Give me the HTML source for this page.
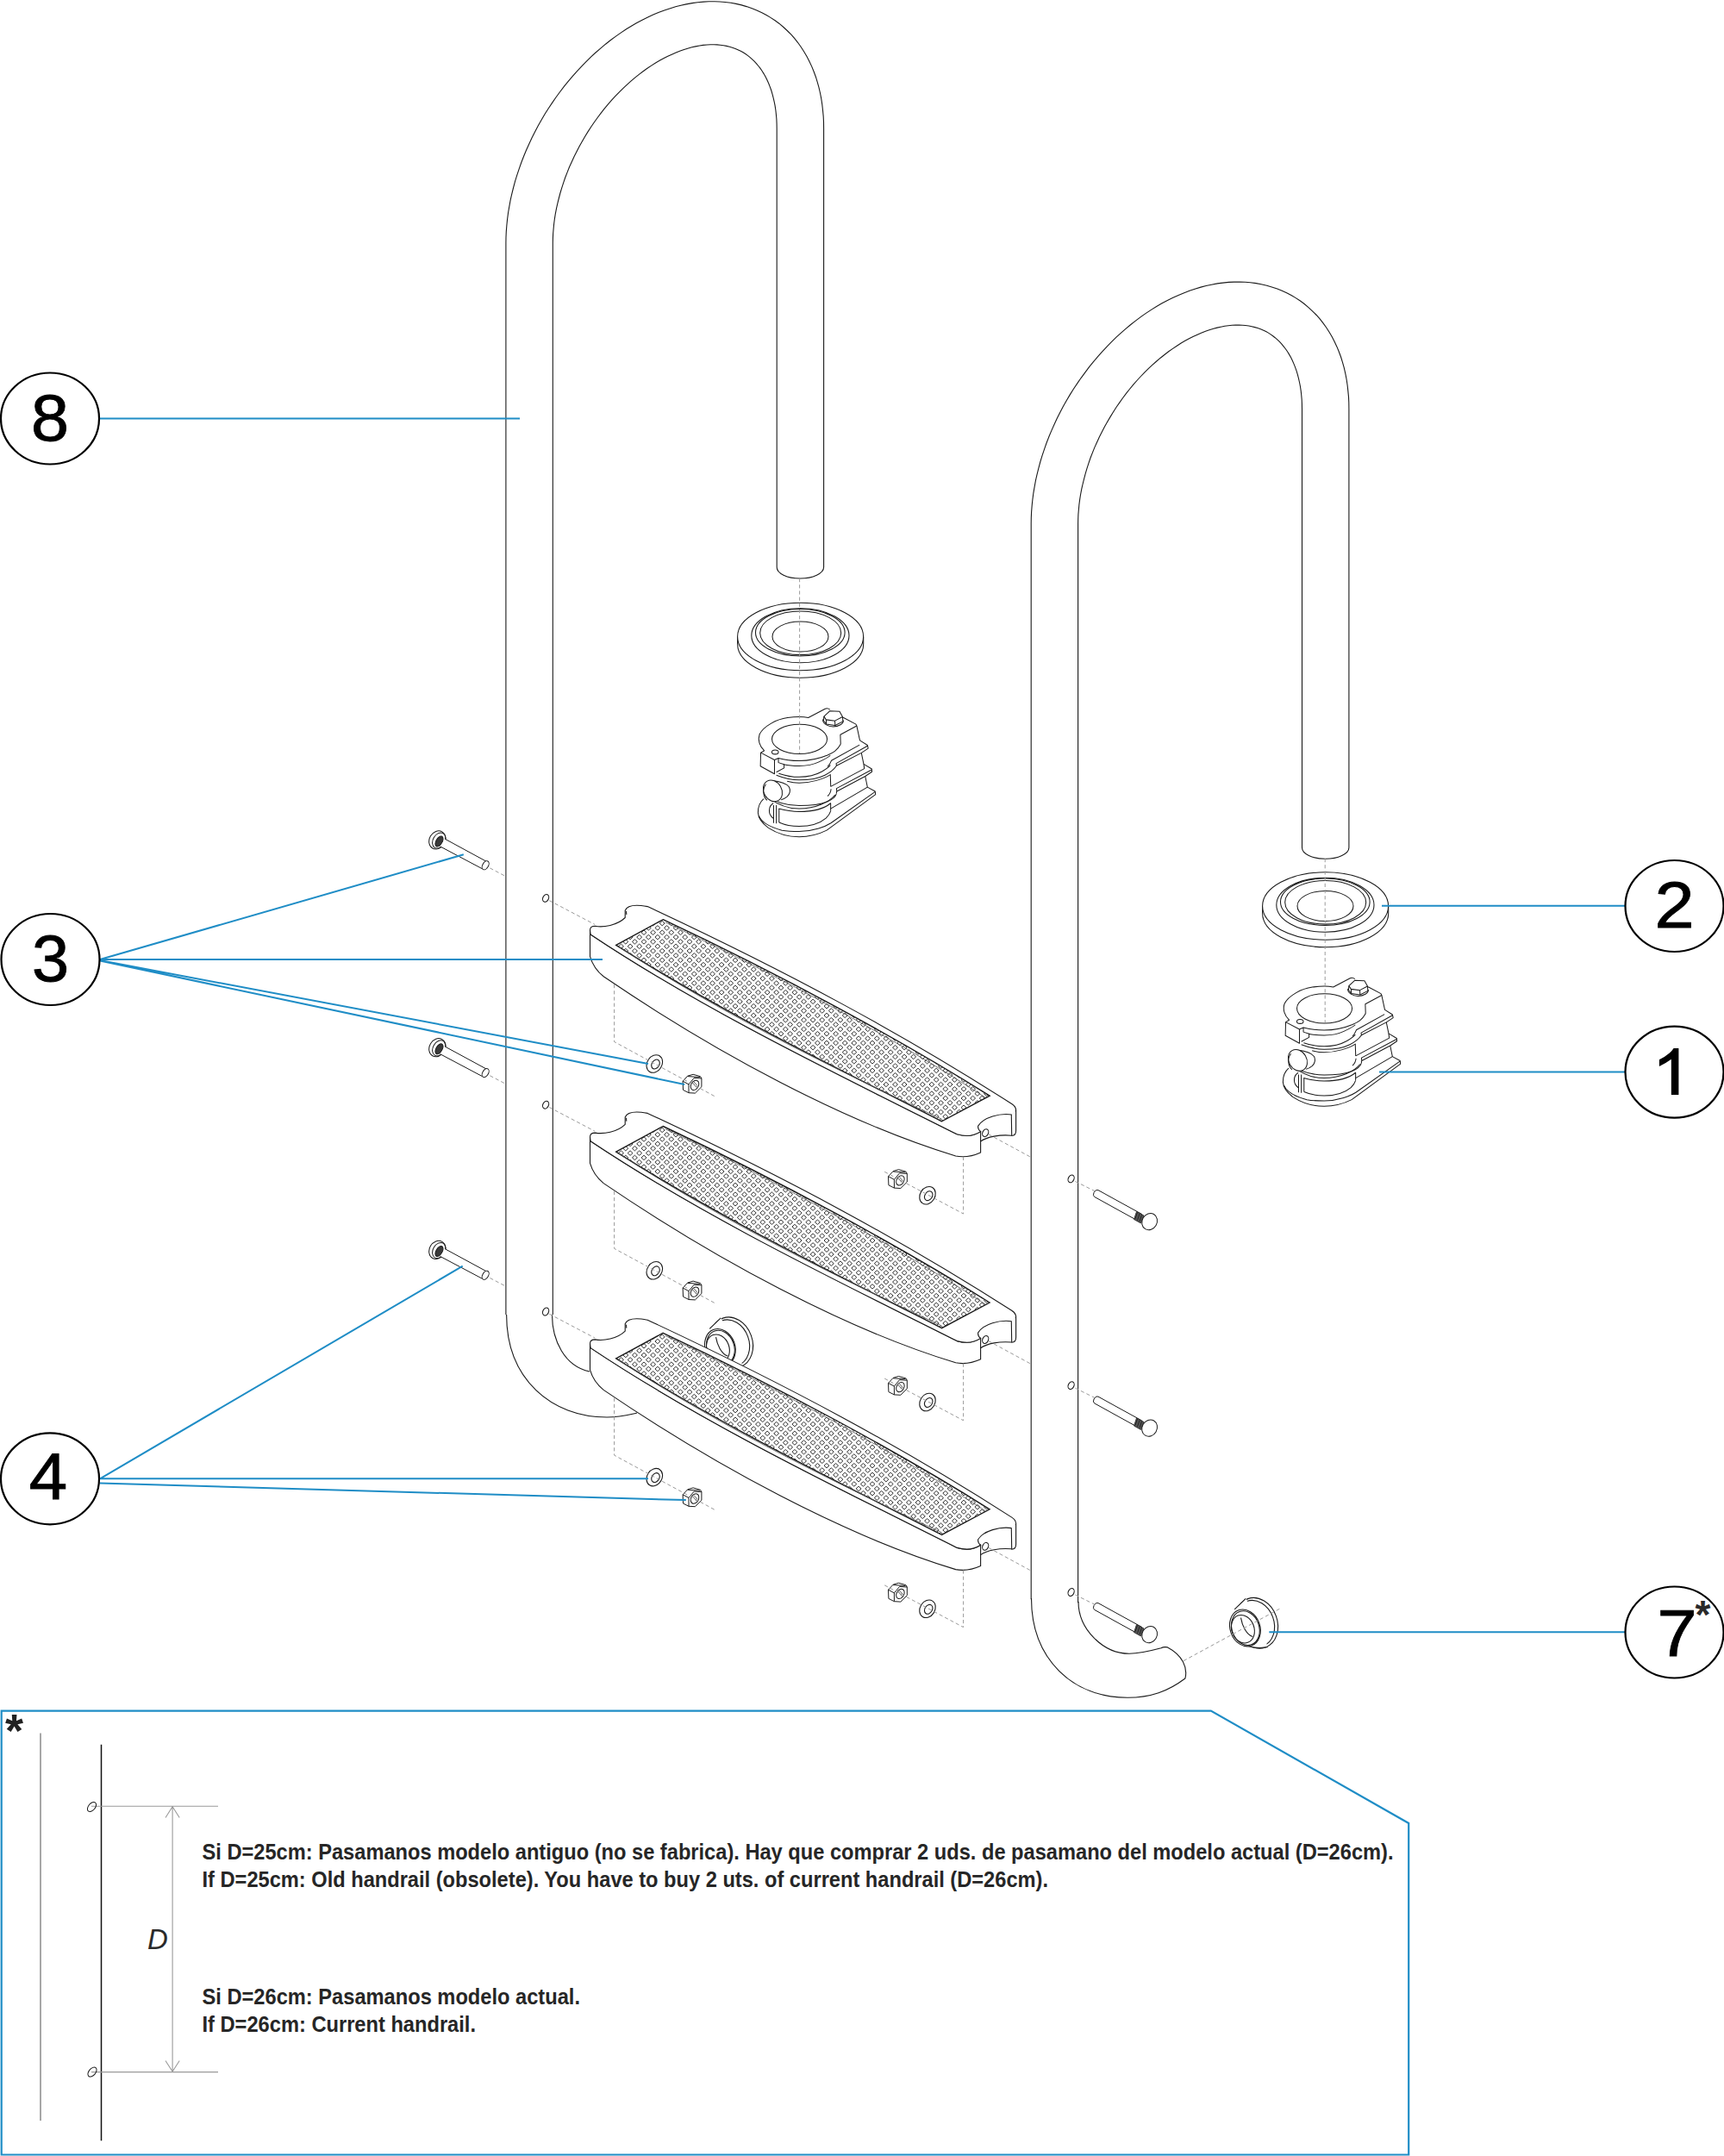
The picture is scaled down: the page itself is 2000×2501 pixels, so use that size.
<!DOCTYPE html>
<html><head><meta charset="utf-8"><style>
html,body{margin:0;padding:0;background:#fff;width:2000px;height:2501px;overflow:hidden}
svg{display:block}
</style></head><body>
<svg width="2000" height="2501" viewBox="0 0 2000 2501"><defs><pattern id="mesh" patternUnits="userSpaceOnUse" width="10.6" height="10.68" x="2.38" y="0.39"><path d="M2.65,-0.18 L5.80,2.67 L2.65,5.52 L-0.50,2.67 Z M7.95,5.16 L11.10,8.01 L7.95,10.86 L4.80,8.01 Z M-2.65,5.16 L0.50,8.01 L-2.65,10.86 L-5.80,8.01 Z M7.95,-5.52 L11.10,-2.67 L7.95,0.18 L4.80,-2.67 Z M-2.65,-5.52 L0.50,-2.67 L-2.65,0.18 L-5.80,-2.67 Z M13.25,5.16 L16.40,8.01 L13.25,10.86 L10.10,8.01 Z M2.65,10.50 L5.80,13.35 L2.65,16.20 L-0.50,13.35 Z" fill="none" stroke="#1a1a1a" stroke-width="0.9"/></pattern>
<g id="tread">
<path d="M685.1,1084 C819.8,1173.9 977.7,1249.1 1110.3,1315.8 Q1116,1317.5 1121.7,1317.5 Q1130,1317.5 1137.6,1312.6 L1137.6,1337 Q1127,1341.8 1116.8,1341.8 Q1112,1341.8 1108.7,1341 C979.9,1301.9 829.6,1220.8 700.2,1132.8 Q688.6,1123.5 684.5,1109.6 L684.5,1079 Z" fill="#fff" stroke="#1a1a1a" stroke-width="1.1"/>
<path d="M684.5,1079 Q684.5,1074.3 690.5,1074.3 C700,1076 716,1073.5 725.2,1064.5 L725.2,1056.2 C727,1051.5 733,1050.2 738.7,1050.2 C743,1050.2 746.5,1050.8 751.2,1051.6 C914.0,1127.5 1046.0,1198.8 1173.7,1280.5 Q1178.6,1283.5 1178.6,1288 Q1177,1292.5 1173.7,1293 C1160,1291 1141,1296 1134.7,1306.1 Q1134,1310 1137.6,1312.6 Q1130,1317.5 1121.7,1317.5 Q1116,1317.5 1110.3,1315.8 C977.7,1249.1 819.8,1173.9 685.1,1084 Z" fill="#fff" stroke="#1a1a1a" stroke-width="1.1"/>
<path d="M1178.6,1288 L1178.6,1311.8 Q1178.6,1317.5 1173.7,1317.5 L1173.3,1293" fill="#fff" stroke="#1a1a1a" stroke-width="1.1"/>
<path d="M1173.3,1317.2 C1160,1316 1145,1318.5 1137.6,1324" fill="none" stroke="#1a1a1a" stroke-width="1.1"/>
<path d="M726.5,1057 L726.8,1061" fill="none" stroke="#1a1a1a" stroke-width="1.05"/>
<ellipse cx="1143.2" cy="1314.2" rx="3.3" ry="4.6" transform="rotate(25 1143.2 1314.2)" fill="none" stroke="#1a1a1a" stroke-width="1.1"/>
<clipPath id="meshclip"><path d="M714.7,1096.3 L769.2,1066.7 C903.2,1129.6 1043.6,1205.5 1148.1,1271.2 L1092.5,1300.8 C982.8,1244.3 847.4,1180.4 714.7,1096.3 Z"/></clipPath><path clip-path="url(#meshclip)" d="M773.5,1063.0l3,2.7l-3,2.7l-3,-2.7zM757.6,1068.4l3,2.7l-3,2.7l-3,-2.7zM768.2,1068.4l3,2.7l-3,2.7l-3,-2.7zM778.8,1068.4l3,2.7l-3,2.7l-3,-2.7zM752.3,1073.7l3,2.7l-3,2.7l-3,-2.7zM762.9,1073.7l3,2.7l-3,2.7l-3,-2.7zM773.5,1073.7l3,2.7l-3,2.7l-3,-2.7zM784.1,1073.7l3,2.7l-3,2.7l-3,-2.7zM794.7,1073.7l3,2.7l-3,2.7l-3,-2.7zM736.4,1079.0l3,2.7l-3,2.7l-3,-2.7zM747.0,1079.0l3,2.7l-3,2.7l-3,-2.7zM757.6,1079.0l3,2.7l-3,2.7l-3,-2.7zM768.2,1079.0l3,2.7l-3,2.7l-3,-2.7zM778.8,1079.0l3,2.7l-3,2.7l-3,-2.7zM789.4,1079.0l3,2.7l-3,2.7l-3,-2.7zM800.0,1079.0l3,2.7l-3,2.7l-3,-2.7zM731.1,1084.4l3,2.7l-3,2.7l-3,-2.7zM741.7,1084.4l3,2.7l-3,2.7l-3,-2.7zM752.3,1084.4l3,2.7l-3,2.7l-3,-2.7zM762.9,1084.4l3,2.7l-3,2.7l-3,-2.7zM773.5,1084.4l3,2.7l-3,2.7l-3,-2.7zM784.1,1084.4l3,2.7l-3,2.7l-3,-2.7zM794.7,1084.4l3,2.7l-3,2.7l-3,-2.7zM805.3,1084.4l3,2.7l-3,2.7l-3,-2.7zM815.9,1084.4l3,2.7l-3,2.7l-3,-2.7zM715.2,1089.7l3,2.7l-3,2.7l-3,-2.7zM725.8,1089.7l3,2.7l-3,2.7l-3,-2.7zM736.4,1089.7l3,2.7l-3,2.7l-3,-2.7zM747.0,1089.7l3,2.7l-3,2.7l-3,-2.7zM757.6,1089.7l3,2.7l-3,2.7l-3,-2.7zM768.2,1089.7l3,2.7l-3,2.7l-3,-2.7zM778.8,1089.7l3,2.7l-3,2.7l-3,-2.7zM789.4,1089.7l3,2.7l-3,2.7l-3,-2.7zM800.0,1089.7l3,2.7l-3,2.7l-3,-2.7zM810.6,1089.7l3,2.7l-3,2.7l-3,-2.7zM821.2,1089.7l3,2.7l-3,2.7l-3,-2.7zM720.5,1095.1l3,2.7l-3,2.7l-3,-2.7zM731.1,1095.1l3,2.7l-3,2.7l-3,-2.7zM741.7,1095.1l3,2.7l-3,2.7l-3,-2.7zM752.3,1095.1l3,2.7l-3,2.7l-3,-2.7zM762.9,1095.1l3,2.7l-3,2.7l-3,-2.7zM773.5,1095.1l3,2.7l-3,2.7l-3,-2.7zM784.1,1095.1l3,2.7l-3,2.7l-3,-2.7zM794.7,1095.1l3,2.7l-3,2.7l-3,-2.7zM805.3,1095.1l3,2.7l-3,2.7l-3,-2.7zM815.9,1095.1l3,2.7l-3,2.7l-3,-2.7zM826.5,1095.1l3,2.7l-3,2.7l-3,-2.7zM837.1,1095.1l3,2.7l-3,2.7l-3,-2.7zM725.8,1100.4l3,2.7l-3,2.7l-3,-2.7zM736.4,1100.4l3,2.7l-3,2.7l-3,-2.7zM747.0,1100.4l3,2.7l-3,2.7l-3,-2.7zM757.6,1100.4l3,2.7l-3,2.7l-3,-2.7zM768.2,1100.4l3,2.7l-3,2.7l-3,-2.7zM778.8,1100.4l3,2.7l-3,2.7l-3,-2.7zM789.4,1100.4l3,2.7l-3,2.7l-3,-2.7zM800.0,1100.4l3,2.7l-3,2.7l-3,-2.7zM810.6,1100.4l3,2.7l-3,2.7l-3,-2.7zM821.2,1100.4l3,2.7l-3,2.7l-3,-2.7zM831.8,1100.4l3,2.7l-3,2.7l-3,-2.7zM842.4,1100.4l3,2.7l-3,2.7l-3,-2.7zM731.1,1105.7l3,2.7l-3,2.7l-3,-2.7zM741.7,1105.7l3,2.7l-3,2.7l-3,-2.7zM752.3,1105.7l3,2.7l-3,2.7l-3,-2.7zM762.9,1105.7l3,2.7l-3,2.7l-3,-2.7zM773.5,1105.7l3,2.7l-3,2.7l-3,-2.7zM784.1,1105.7l3,2.7l-3,2.7l-3,-2.7zM794.7,1105.7l3,2.7l-3,2.7l-3,-2.7zM805.3,1105.7l3,2.7l-3,2.7l-3,-2.7zM815.9,1105.7l3,2.7l-3,2.7l-3,-2.7zM826.5,1105.7l3,2.7l-3,2.7l-3,-2.7zM837.1,1105.7l3,2.7l-3,2.7l-3,-2.7zM847.7,1105.7l3,2.7l-3,2.7l-3,-2.7zM858.3,1105.7l3,2.7l-3,2.7l-3,-2.7zM736.4,1111.1l3,2.7l-3,2.7l-3,-2.7zM747.0,1111.1l3,2.7l-3,2.7l-3,-2.7zM757.6,1111.1l3,2.7l-3,2.7l-3,-2.7zM768.2,1111.1l3,2.7l-3,2.7l-3,-2.7zM778.8,1111.1l3,2.7l-3,2.7l-3,-2.7zM789.4,1111.1l3,2.7l-3,2.7l-3,-2.7zM800.0,1111.1l3,2.7l-3,2.7l-3,-2.7zM810.6,1111.1l3,2.7l-3,2.7l-3,-2.7zM821.2,1111.1l3,2.7l-3,2.7l-3,-2.7zM831.8,1111.1l3,2.7l-3,2.7l-3,-2.7zM842.4,1111.1l3,2.7l-3,2.7l-3,-2.7zM853.0,1111.1l3,2.7l-3,2.7l-3,-2.7zM863.6,1111.1l3,2.7l-3,2.7l-3,-2.7zM752.3,1116.4l3,2.7l-3,2.7l-3,-2.7zM762.9,1116.4l3,2.7l-3,2.7l-3,-2.7zM773.5,1116.4l3,2.7l-3,2.7l-3,-2.7zM784.1,1116.4l3,2.7l-3,2.7l-3,-2.7zM794.7,1116.4l3,2.7l-3,2.7l-3,-2.7zM805.3,1116.4l3,2.7l-3,2.7l-3,-2.7zM815.9,1116.4l3,2.7l-3,2.7l-3,-2.7zM826.5,1116.4l3,2.7l-3,2.7l-3,-2.7zM837.1,1116.4l3,2.7l-3,2.7l-3,-2.7zM847.7,1116.4l3,2.7l-3,2.7l-3,-2.7zM858.3,1116.4l3,2.7l-3,2.7l-3,-2.7zM868.9,1116.4l3,2.7l-3,2.7l-3,-2.7zM879.5,1116.4l3,2.7l-3,2.7l-3,-2.7zM757.6,1121.8l3,2.7l-3,2.7l-3,-2.7zM768.2,1121.8l3,2.7l-3,2.7l-3,-2.7zM778.8,1121.8l3,2.7l-3,2.7l-3,-2.7zM789.4,1121.8l3,2.7l-3,2.7l-3,-2.7zM800.0,1121.8l3,2.7l-3,2.7l-3,-2.7zM810.6,1121.8l3,2.7l-3,2.7l-3,-2.7zM821.2,1121.8l3,2.7l-3,2.7l-3,-2.7zM831.8,1121.8l3,2.7l-3,2.7l-3,-2.7zM842.4,1121.8l3,2.7l-3,2.7l-3,-2.7zM853.0,1121.8l3,2.7l-3,2.7l-3,-2.7zM863.6,1121.8l3,2.7l-3,2.7l-3,-2.7zM874.2,1121.8l3,2.7l-3,2.7l-3,-2.7zM884.8,1121.8l3,2.7l-3,2.7l-3,-2.7zM762.9,1127.1l3,2.7l-3,2.7l-3,-2.7zM773.5,1127.1l3,2.7l-3,2.7l-3,-2.7zM784.1,1127.1l3,2.7l-3,2.7l-3,-2.7zM794.7,1127.1l3,2.7l-3,2.7l-3,-2.7zM805.3,1127.1l3,2.7l-3,2.7l-3,-2.7zM815.9,1127.1l3,2.7l-3,2.7l-3,-2.7zM826.5,1127.1l3,2.7l-3,2.7l-3,-2.7zM837.1,1127.1l3,2.7l-3,2.7l-3,-2.7zM847.7,1127.1l3,2.7l-3,2.7l-3,-2.7zM858.3,1127.1l3,2.7l-3,2.7l-3,-2.7zM868.9,1127.1l3,2.7l-3,2.7l-3,-2.7zM879.5,1127.1l3,2.7l-3,2.7l-3,-2.7zM890.1,1127.1l3,2.7l-3,2.7l-3,-2.7zM900.7,1127.1l3,2.7l-3,2.7l-3,-2.7zM778.8,1132.4l3,2.7l-3,2.7l-3,-2.7zM789.4,1132.4l3,2.7l-3,2.7l-3,-2.7zM800.0,1132.4l3,2.7l-3,2.7l-3,-2.7zM810.6,1132.4l3,2.7l-3,2.7l-3,-2.7zM821.2,1132.4l3,2.7l-3,2.7l-3,-2.7zM831.8,1132.4l3,2.7l-3,2.7l-3,-2.7zM842.4,1132.4l3,2.7l-3,2.7l-3,-2.7zM853.0,1132.4l3,2.7l-3,2.7l-3,-2.7zM863.6,1132.4l3,2.7l-3,2.7l-3,-2.7zM874.2,1132.4l3,2.7l-3,2.7l-3,-2.7zM884.8,1132.4l3,2.7l-3,2.7l-3,-2.7zM895.4,1132.4l3,2.7l-3,2.7l-3,-2.7zM906.0,1132.4l3,2.7l-3,2.7l-3,-2.7zM784.1,1137.8l3,2.7l-3,2.7l-3,-2.7zM794.7,1137.8l3,2.7l-3,2.7l-3,-2.7zM805.3,1137.8l3,2.7l-3,2.7l-3,-2.7zM815.9,1137.8l3,2.7l-3,2.7l-3,-2.7zM826.5,1137.8l3,2.7l-3,2.7l-3,-2.7zM837.1,1137.8l3,2.7l-3,2.7l-3,-2.7zM847.7,1137.8l3,2.7l-3,2.7l-3,-2.7zM858.3,1137.8l3,2.7l-3,2.7l-3,-2.7zM868.9,1137.8l3,2.7l-3,2.7l-3,-2.7zM879.5,1137.8l3,2.7l-3,2.7l-3,-2.7zM890.1,1137.8l3,2.7l-3,2.7l-3,-2.7zM900.7,1137.8l3,2.7l-3,2.7l-3,-2.7zM911.3,1137.8l3,2.7l-3,2.7l-3,-2.7zM921.9,1137.8l3,2.7l-3,2.7l-3,-2.7zM800.0,1143.1l3,2.7l-3,2.7l-3,-2.7zM810.6,1143.1l3,2.7l-3,2.7l-3,-2.7zM821.2,1143.1l3,2.7l-3,2.7l-3,-2.7zM831.8,1143.1l3,2.7l-3,2.7l-3,-2.7zM842.4,1143.1l3,2.7l-3,2.7l-3,-2.7zM853.0,1143.1l3,2.7l-3,2.7l-3,-2.7zM863.6,1143.1l3,2.7l-3,2.7l-3,-2.7zM874.2,1143.1l3,2.7l-3,2.7l-3,-2.7zM884.8,1143.1l3,2.7l-3,2.7l-3,-2.7zM895.4,1143.1l3,2.7l-3,2.7l-3,-2.7zM906.0,1143.1l3,2.7l-3,2.7l-3,-2.7zM916.6,1143.1l3,2.7l-3,2.7l-3,-2.7zM927.2,1143.1l3,2.7l-3,2.7l-3,-2.7zM805.3,1148.5l3,2.7l-3,2.7l-3,-2.7zM815.9,1148.5l3,2.7l-3,2.7l-3,-2.7zM826.5,1148.5l3,2.7l-3,2.7l-3,-2.7zM837.1,1148.5l3,2.7l-3,2.7l-3,-2.7zM847.7,1148.5l3,2.7l-3,2.7l-3,-2.7zM858.3,1148.5l3,2.7l-3,2.7l-3,-2.7zM868.9,1148.5l3,2.7l-3,2.7l-3,-2.7zM879.5,1148.5l3,2.7l-3,2.7l-3,-2.7zM890.1,1148.5l3,2.7l-3,2.7l-3,-2.7zM900.7,1148.5l3,2.7l-3,2.7l-3,-2.7zM911.3,1148.5l3,2.7l-3,2.7l-3,-2.7zM921.9,1148.5l3,2.7l-3,2.7l-3,-2.7zM932.5,1148.5l3,2.7l-3,2.7l-3,-2.7zM943.1,1148.5l3,2.7l-3,2.7l-3,-2.7zM810.6,1153.8l3,2.7l-3,2.7l-3,-2.7zM821.2,1153.8l3,2.7l-3,2.7l-3,-2.7zM831.8,1153.8l3,2.7l-3,2.7l-3,-2.7zM842.4,1153.8l3,2.7l-3,2.7l-3,-2.7zM853.0,1153.8l3,2.7l-3,2.7l-3,-2.7zM863.6,1153.8l3,2.7l-3,2.7l-3,-2.7zM874.2,1153.8l3,2.7l-3,2.7l-3,-2.7zM884.8,1153.8l3,2.7l-3,2.7l-3,-2.7zM895.4,1153.8l3,2.7l-3,2.7l-3,-2.7zM906.0,1153.8l3,2.7l-3,2.7l-3,-2.7zM916.6,1153.8l3,2.7l-3,2.7l-3,-2.7zM927.2,1153.8l3,2.7l-3,2.7l-3,-2.7zM937.8,1153.8l3,2.7l-3,2.7l-3,-2.7zM948.4,1153.8l3,2.7l-3,2.7l-3,-2.7zM826.5,1159.1l3,2.7l-3,2.7l-3,-2.7zM837.1,1159.1l3,2.7l-3,2.7l-3,-2.7zM847.7,1159.1l3,2.7l-3,2.7l-3,-2.7zM858.3,1159.1l3,2.7l-3,2.7l-3,-2.7zM868.9,1159.1l3,2.7l-3,2.7l-3,-2.7zM879.5,1159.1l3,2.7l-3,2.7l-3,-2.7zM890.1,1159.1l3,2.7l-3,2.7l-3,-2.7zM900.7,1159.1l3,2.7l-3,2.7l-3,-2.7zM911.3,1159.1l3,2.7l-3,2.7l-3,-2.7zM921.9,1159.1l3,2.7l-3,2.7l-3,-2.7zM932.5,1159.1l3,2.7l-3,2.7l-3,-2.7zM943.1,1159.1l3,2.7l-3,2.7l-3,-2.7zM953.7,1159.1l3,2.7l-3,2.7l-3,-2.7zM964.3,1159.1l3,2.7l-3,2.7l-3,-2.7zM831.8,1164.5l3,2.7l-3,2.7l-3,-2.7zM842.4,1164.5l3,2.7l-3,2.7l-3,-2.7zM853.0,1164.5l3,2.7l-3,2.7l-3,-2.7zM863.6,1164.5l3,2.7l-3,2.7l-3,-2.7zM874.2,1164.5l3,2.7l-3,2.7l-3,-2.7zM884.8,1164.5l3,2.7l-3,2.7l-3,-2.7zM895.4,1164.5l3,2.7l-3,2.7l-3,-2.7zM906.0,1164.5l3,2.7l-3,2.7l-3,-2.7zM916.6,1164.5l3,2.7l-3,2.7l-3,-2.7zM927.2,1164.5l3,2.7l-3,2.7l-3,-2.7zM937.8,1164.5l3,2.7l-3,2.7l-3,-2.7zM948.4,1164.5l3,2.7l-3,2.7l-3,-2.7zM959.0,1164.5l3,2.7l-3,2.7l-3,-2.7zM969.6,1164.5l3,2.7l-3,2.7l-3,-2.7zM837.1,1169.8l3,2.7l-3,2.7l-3,-2.7zM847.7,1169.8l3,2.7l-3,2.7l-3,-2.7zM858.3,1169.8l3,2.7l-3,2.7l-3,-2.7zM868.9,1169.8l3,2.7l-3,2.7l-3,-2.7zM879.5,1169.8l3,2.7l-3,2.7l-3,-2.7zM890.1,1169.8l3,2.7l-3,2.7l-3,-2.7zM900.7,1169.8l3,2.7l-3,2.7l-3,-2.7zM911.3,1169.8l3,2.7l-3,2.7l-3,-2.7zM921.9,1169.8l3,2.7l-3,2.7l-3,-2.7zM932.5,1169.8l3,2.7l-3,2.7l-3,-2.7zM943.1,1169.8l3,2.7l-3,2.7l-3,-2.7zM953.7,1169.8l3,2.7l-3,2.7l-3,-2.7zM964.3,1169.8l3,2.7l-3,2.7l-3,-2.7zM974.9,1169.8l3,2.7l-3,2.7l-3,-2.7zM985.5,1169.8l3,2.7l-3,2.7l-3,-2.7zM853.0,1175.2l3,2.7l-3,2.7l-3,-2.7zM863.6,1175.2l3,2.7l-3,2.7l-3,-2.7zM874.2,1175.2l3,2.7l-3,2.7l-3,-2.7zM884.8,1175.2l3,2.7l-3,2.7l-3,-2.7zM895.4,1175.2l3,2.7l-3,2.7l-3,-2.7zM906.0,1175.2l3,2.7l-3,2.7l-3,-2.7zM916.6,1175.2l3,2.7l-3,2.7l-3,-2.7zM927.2,1175.2l3,2.7l-3,2.7l-3,-2.7zM937.8,1175.2l3,2.7l-3,2.7l-3,-2.7zM948.4,1175.2l3,2.7l-3,2.7l-3,-2.7zM959.0,1175.2l3,2.7l-3,2.7l-3,-2.7zM969.6,1175.2l3,2.7l-3,2.7l-3,-2.7zM980.2,1175.2l3,2.7l-3,2.7l-3,-2.7zM990.8,1175.2l3,2.7l-3,2.7l-3,-2.7zM858.3,1180.5l3,2.7l-3,2.7l-3,-2.7zM868.9,1180.5l3,2.7l-3,2.7l-3,-2.7zM879.5,1180.5l3,2.7l-3,2.7l-3,-2.7zM890.1,1180.5l3,2.7l-3,2.7l-3,-2.7zM900.7,1180.5l3,2.7l-3,2.7l-3,-2.7zM911.3,1180.5l3,2.7l-3,2.7l-3,-2.7zM921.9,1180.5l3,2.7l-3,2.7l-3,-2.7zM932.5,1180.5l3,2.7l-3,2.7l-3,-2.7zM943.1,1180.5l3,2.7l-3,2.7l-3,-2.7zM953.7,1180.5l3,2.7l-3,2.7l-3,-2.7zM964.3,1180.5l3,2.7l-3,2.7l-3,-2.7zM974.9,1180.5l3,2.7l-3,2.7l-3,-2.7zM985.5,1180.5l3,2.7l-3,2.7l-3,-2.7zM996.1,1180.5l3,2.7l-3,2.7l-3,-2.7zM874.2,1185.8l3,2.7l-3,2.7l-3,-2.7zM884.8,1185.8l3,2.7l-3,2.7l-3,-2.7zM895.4,1185.8l3,2.7l-3,2.7l-3,-2.7zM906.0,1185.8l3,2.7l-3,2.7l-3,-2.7zM916.6,1185.8l3,2.7l-3,2.7l-3,-2.7zM927.2,1185.8l3,2.7l-3,2.7l-3,-2.7zM937.8,1185.8l3,2.7l-3,2.7l-3,-2.7zM948.4,1185.8l3,2.7l-3,2.7l-3,-2.7zM959.0,1185.8l3,2.7l-3,2.7l-3,-2.7zM969.6,1185.8l3,2.7l-3,2.7l-3,-2.7zM980.2,1185.8l3,2.7l-3,2.7l-3,-2.7zM990.8,1185.8l3,2.7l-3,2.7l-3,-2.7zM1001.4,1185.8l3,2.7l-3,2.7l-3,-2.7zM1012.0,1185.8l3,2.7l-3,2.7l-3,-2.7zM879.5,1191.2l3,2.7l-3,2.7l-3,-2.7zM890.1,1191.2l3,2.7l-3,2.7l-3,-2.7zM900.7,1191.2l3,2.7l-3,2.7l-3,-2.7zM911.3,1191.2l3,2.7l-3,2.7l-3,-2.7zM921.9,1191.2l3,2.7l-3,2.7l-3,-2.7zM932.5,1191.2l3,2.7l-3,2.7l-3,-2.7zM943.1,1191.2l3,2.7l-3,2.7l-3,-2.7zM953.7,1191.2l3,2.7l-3,2.7l-3,-2.7zM964.3,1191.2l3,2.7l-3,2.7l-3,-2.7zM974.9,1191.2l3,2.7l-3,2.7l-3,-2.7zM985.5,1191.2l3,2.7l-3,2.7l-3,-2.7zM996.1,1191.2l3,2.7l-3,2.7l-3,-2.7zM1006.7,1191.2l3,2.7l-3,2.7l-3,-2.7zM1017.3,1191.2l3,2.7l-3,2.7l-3,-2.7zM895.4,1196.5l3,2.7l-3,2.7l-3,-2.7zM906.0,1196.5l3,2.7l-3,2.7l-3,-2.7zM916.6,1196.5l3,2.7l-3,2.7l-3,-2.7zM927.2,1196.5l3,2.7l-3,2.7l-3,-2.7zM937.8,1196.5l3,2.7l-3,2.7l-3,-2.7zM948.4,1196.5l3,2.7l-3,2.7l-3,-2.7zM959.0,1196.5l3,2.7l-3,2.7l-3,-2.7zM969.6,1196.5l3,2.7l-3,2.7l-3,-2.7zM980.2,1196.5l3,2.7l-3,2.7l-3,-2.7zM990.8,1196.5l3,2.7l-3,2.7l-3,-2.7zM1001.4,1196.5l3,2.7l-3,2.7l-3,-2.7zM1012.0,1196.5l3,2.7l-3,2.7l-3,-2.7zM1022.6,1196.5l3,2.7l-3,2.7l-3,-2.7zM1033.2,1196.5l3,2.7l-3,2.7l-3,-2.7zM900.7,1201.9l3,2.7l-3,2.7l-3,-2.7zM911.3,1201.9l3,2.7l-3,2.7l-3,-2.7zM921.9,1201.9l3,2.7l-3,2.7l-3,-2.7zM932.5,1201.9l3,2.7l-3,2.7l-3,-2.7zM943.1,1201.9l3,2.7l-3,2.7l-3,-2.7zM953.7,1201.9l3,2.7l-3,2.7l-3,-2.7zM964.3,1201.9l3,2.7l-3,2.7l-3,-2.7zM974.9,1201.9l3,2.7l-3,2.7l-3,-2.7zM985.5,1201.9l3,2.7l-3,2.7l-3,-2.7zM996.1,1201.9l3,2.7l-3,2.7l-3,-2.7zM1006.7,1201.9l3,2.7l-3,2.7l-3,-2.7zM1017.3,1201.9l3,2.7l-3,2.7l-3,-2.7zM1027.9,1201.9l3,2.7l-3,2.7l-3,-2.7zM1038.5,1201.9l3,2.7l-3,2.7l-3,-2.7zM916.6,1207.2l3,2.7l-3,2.7l-3,-2.7zM927.2,1207.2l3,2.7l-3,2.7l-3,-2.7zM937.8,1207.2l3,2.7l-3,2.7l-3,-2.7zM948.4,1207.2l3,2.7l-3,2.7l-3,-2.7zM959.0,1207.2l3,2.7l-3,2.7l-3,-2.7zM969.6,1207.2l3,2.7l-3,2.7l-3,-2.7zM980.2,1207.2l3,2.7l-3,2.7l-3,-2.7zM990.8,1207.2l3,2.7l-3,2.7l-3,-2.7zM1001.4,1207.2l3,2.7l-3,2.7l-3,-2.7zM1012.0,1207.2l3,2.7l-3,2.7l-3,-2.7zM1022.6,1207.2l3,2.7l-3,2.7l-3,-2.7zM1033.2,1207.2l3,2.7l-3,2.7l-3,-2.7zM1043.8,1207.2l3,2.7l-3,2.7l-3,-2.7zM921.9,1212.5l3,2.7l-3,2.7l-3,-2.7zM932.5,1212.5l3,2.7l-3,2.7l-3,-2.7zM943.1,1212.5l3,2.7l-3,2.7l-3,-2.7zM953.7,1212.5l3,2.7l-3,2.7l-3,-2.7zM964.3,1212.5l3,2.7l-3,2.7l-3,-2.7zM974.9,1212.5l3,2.7l-3,2.7l-3,-2.7zM985.5,1212.5l3,2.7l-3,2.7l-3,-2.7zM996.1,1212.5l3,2.7l-3,2.7l-3,-2.7zM1006.7,1212.5l3,2.7l-3,2.7l-3,-2.7zM1017.3,1212.5l3,2.7l-3,2.7l-3,-2.7zM1027.9,1212.5l3,2.7l-3,2.7l-3,-2.7zM1038.5,1212.5l3,2.7l-3,2.7l-3,-2.7zM1049.1,1212.5l3,2.7l-3,2.7l-3,-2.7zM1059.7,1212.5l3,2.7l-3,2.7l-3,-2.7zM927.2,1217.9l3,2.7l-3,2.7l-3,-2.7zM937.8,1217.9l3,2.7l-3,2.7l-3,-2.7zM948.4,1217.9l3,2.7l-3,2.7l-3,-2.7zM959.0,1217.9l3,2.7l-3,2.7l-3,-2.7zM969.6,1217.9l3,2.7l-3,2.7l-3,-2.7zM980.2,1217.9l3,2.7l-3,2.7l-3,-2.7zM990.8,1217.9l3,2.7l-3,2.7l-3,-2.7zM1001.4,1217.9l3,2.7l-3,2.7l-3,-2.7zM1012.0,1217.9l3,2.7l-3,2.7l-3,-2.7zM1022.6,1217.9l3,2.7l-3,2.7l-3,-2.7zM1033.2,1217.9l3,2.7l-3,2.7l-3,-2.7zM1043.8,1217.9l3,2.7l-3,2.7l-3,-2.7zM1054.4,1217.9l3,2.7l-3,2.7l-3,-2.7zM1065.0,1217.9l3,2.7l-3,2.7l-3,-2.7zM943.1,1223.2l3,2.7l-3,2.7l-3,-2.7zM953.7,1223.2l3,2.7l-3,2.7l-3,-2.7zM964.3,1223.2l3,2.7l-3,2.7l-3,-2.7zM974.9,1223.2l3,2.7l-3,2.7l-3,-2.7zM985.5,1223.2l3,2.7l-3,2.7l-3,-2.7zM996.1,1223.2l3,2.7l-3,2.7l-3,-2.7zM1006.7,1223.2l3,2.7l-3,2.7l-3,-2.7zM1017.3,1223.2l3,2.7l-3,2.7l-3,-2.7zM1027.9,1223.2l3,2.7l-3,2.7l-3,-2.7zM1038.5,1223.2l3,2.7l-3,2.7l-3,-2.7zM1049.1,1223.2l3,2.7l-3,2.7l-3,-2.7zM1059.7,1223.2l3,2.7l-3,2.7l-3,-2.7zM1070.3,1223.2l3,2.7l-3,2.7l-3,-2.7zM948.4,1228.6l3,2.7l-3,2.7l-3,-2.7zM959.0,1228.6l3,2.7l-3,2.7l-3,-2.7zM969.6,1228.6l3,2.7l-3,2.7l-3,-2.7zM980.2,1228.6l3,2.7l-3,2.7l-3,-2.7zM990.8,1228.6l3,2.7l-3,2.7l-3,-2.7zM1001.4,1228.6l3,2.7l-3,2.7l-3,-2.7zM1012.0,1228.6l3,2.7l-3,2.7l-3,-2.7zM1022.6,1228.6l3,2.7l-3,2.7l-3,-2.7zM1033.2,1228.6l3,2.7l-3,2.7l-3,-2.7zM1043.8,1228.6l3,2.7l-3,2.7l-3,-2.7zM1054.4,1228.6l3,2.7l-3,2.7l-3,-2.7zM1065.0,1228.6l3,2.7l-3,2.7l-3,-2.7zM1075.6,1228.6l3,2.7l-3,2.7l-3,-2.7zM1086.2,1228.6l3,2.7l-3,2.7l-3,-2.7zM964.3,1233.9l3,2.7l-3,2.7l-3,-2.7zM974.9,1233.9l3,2.7l-3,2.7l-3,-2.7zM985.5,1233.9l3,2.7l-3,2.7l-3,-2.7zM996.1,1233.9l3,2.7l-3,2.7l-3,-2.7zM1006.7,1233.9l3,2.7l-3,2.7l-3,-2.7zM1017.3,1233.9l3,2.7l-3,2.7l-3,-2.7zM1027.9,1233.9l3,2.7l-3,2.7l-3,-2.7zM1038.5,1233.9l3,2.7l-3,2.7l-3,-2.7zM1049.1,1233.9l3,2.7l-3,2.7l-3,-2.7zM1059.7,1233.9l3,2.7l-3,2.7l-3,-2.7zM1070.3,1233.9l3,2.7l-3,2.7l-3,-2.7zM1080.9,1233.9l3,2.7l-3,2.7l-3,-2.7zM1091.5,1233.9l3,2.7l-3,2.7l-3,-2.7zM969.6,1239.2l3,2.7l-3,2.7l-3,-2.7zM980.2,1239.2l3,2.7l-3,2.7l-3,-2.7zM990.8,1239.2l3,2.7l-3,2.7l-3,-2.7zM1001.4,1239.2l3,2.7l-3,2.7l-3,-2.7zM1012.0,1239.2l3,2.7l-3,2.7l-3,-2.7zM1022.6,1239.2l3,2.7l-3,2.7l-3,-2.7zM1033.2,1239.2l3,2.7l-3,2.7l-3,-2.7zM1043.8,1239.2l3,2.7l-3,2.7l-3,-2.7zM1054.4,1239.2l3,2.7l-3,2.7l-3,-2.7zM1065.0,1239.2l3,2.7l-3,2.7l-3,-2.7zM1075.6,1239.2l3,2.7l-3,2.7l-3,-2.7zM1086.2,1239.2l3,2.7l-3,2.7l-3,-2.7zM1096.8,1239.2l3,2.7l-3,2.7l-3,-2.7zM985.5,1244.6l3,2.7l-3,2.7l-3,-2.7zM996.1,1244.6l3,2.7l-3,2.7l-3,-2.7zM1006.7,1244.6l3,2.7l-3,2.7l-3,-2.7zM1017.3,1244.6l3,2.7l-3,2.7l-3,-2.7zM1027.9,1244.6l3,2.7l-3,2.7l-3,-2.7zM1038.5,1244.6l3,2.7l-3,2.7l-3,-2.7zM1049.1,1244.6l3,2.7l-3,2.7l-3,-2.7zM1059.7,1244.6l3,2.7l-3,2.7l-3,-2.7zM1070.3,1244.6l3,2.7l-3,2.7l-3,-2.7zM1080.9,1244.6l3,2.7l-3,2.7l-3,-2.7zM1091.5,1244.6l3,2.7l-3,2.7l-3,-2.7zM1102.1,1244.6l3,2.7l-3,2.7l-3,-2.7zM1112.7,1244.6l3,2.7l-3,2.7l-3,-2.7zM990.8,1249.9l3,2.7l-3,2.7l-3,-2.7zM1001.4,1249.9l3,2.7l-3,2.7l-3,-2.7zM1012.0,1249.9l3,2.7l-3,2.7l-3,-2.7zM1022.6,1249.9l3,2.7l-3,2.7l-3,-2.7zM1033.2,1249.9l3,2.7l-3,2.7l-3,-2.7zM1043.8,1249.9l3,2.7l-3,2.7l-3,-2.7zM1054.4,1249.9l3,2.7l-3,2.7l-3,-2.7zM1065.0,1249.9l3,2.7l-3,2.7l-3,-2.7zM1075.6,1249.9l3,2.7l-3,2.7l-3,-2.7zM1086.2,1249.9l3,2.7l-3,2.7l-3,-2.7zM1096.8,1249.9l3,2.7l-3,2.7l-3,-2.7zM1107.4,1249.9l3,2.7l-3,2.7l-3,-2.7zM1118.0,1249.9l3,2.7l-3,2.7l-3,-2.7zM1006.7,1255.3l3,2.7l-3,2.7l-3,-2.7zM1017.3,1255.3l3,2.7l-3,2.7l-3,-2.7zM1027.9,1255.3l3,2.7l-3,2.7l-3,-2.7zM1038.5,1255.3l3,2.7l-3,2.7l-3,-2.7zM1049.1,1255.3l3,2.7l-3,2.7l-3,-2.7zM1059.7,1255.3l3,2.7l-3,2.7l-3,-2.7zM1070.3,1255.3l3,2.7l-3,2.7l-3,-2.7zM1080.9,1255.3l3,2.7l-3,2.7l-3,-2.7zM1091.5,1255.3l3,2.7l-3,2.7l-3,-2.7zM1102.1,1255.3l3,2.7l-3,2.7l-3,-2.7zM1112.7,1255.3l3,2.7l-3,2.7l-3,-2.7zM1123.3,1255.3l3,2.7l-3,2.7l-3,-2.7zM1012.0,1260.6l3,2.7l-3,2.7l-3,-2.7zM1022.6,1260.6l3,2.7l-3,2.7l-3,-2.7zM1033.2,1260.6l3,2.7l-3,2.7l-3,-2.7zM1043.8,1260.6l3,2.7l-3,2.7l-3,-2.7zM1054.4,1260.6l3,2.7l-3,2.7l-3,-2.7zM1065.0,1260.6l3,2.7l-3,2.7l-3,-2.7zM1075.6,1260.6l3,2.7l-3,2.7l-3,-2.7zM1086.2,1260.6l3,2.7l-3,2.7l-3,-2.7zM1096.8,1260.6l3,2.7l-3,2.7l-3,-2.7zM1107.4,1260.6l3,2.7l-3,2.7l-3,-2.7zM1118.0,1260.6l3,2.7l-3,2.7l-3,-2.7zM1128.6,1260.6l3,2.7l-3,2.7l-3,-2.7zM1139.2,1260.6l3,2.7l-3,2.7l-3,-2.7zM1027.9,1265.9l3,2.7l-3,2.7l-3,-2.7zM1038.5,1265.9l3,2.7l-3,2.7l-3,-2.7zM1049.1,1265.9l3,2.7l-3,2.7l-3,-2.7zM1059.7,1265.9l3,2.7l-3,2.7l-3,-2.7zM1070.3,1265.9l3,2.7l-3,2.7l-3,-2.7zM1080.9,1265.9l3,2.7l-3,2.7l-3,-2.7zM1091.5,1265.9l3,2.7l-3,2.7l-3,-2.7zM1102.1,1265.9l3,2.7l-3,2.7l-3,-2.7zM1112.7,1265.9l3,2.7l-3,2.7l-3,-2.7zM1123.3,1265.9l3,2.7l-3,2.7l-3,-2.7zM1133.9,1265.9l3,2.7l-3,2.7l-3,-2.7zM1144.5,1265.9l3,2.7l-3,2.7l-3,-2.7zM1033.2,1271.3l3,2.7l-3,2.7l-3,-2.7zM1043.8,1271.3l3,2.7l-3,2.7l-3,-2.7zM1054.4,1271.3l3,2.7l-3,2.7l-3,-2.7zM1065.0,1271.3l3,2.7l-3,2.7l-3,-2.7zM1075.6,1271.3l3,2.7l-3,2.7l-3,-2.7zM1086.2,1271.3l3,2.7l-3,2.7l-3,-2.7zM1096.8,1271.3l3,2.7l-3,2.7l-3,-2.7zM1107.4,1271.3l3,2.7l-3,2.7l-3,-2.7zM1118.0,1271.3l3,2.7l-3,2.7l-3,-2.7zM1128.6,1271.3l3,2.7l-3,2.7l-3,-2.7zM1139.2,1271.3l3,2.7l-3,2.7l-3,-2.7zM1049.1,1276.6l3,2.7l-3,2.7l-3,-2.7zM1059.7,1276.6l3,2.7l-3,2.7l-3,-2.7zM1070.3,1276.6l3,2.7l-3,2.7l-3,-2.7zM1080.9,1276.6l3,2.7l-3,2.7l-3,-2.7zM1091.5,1276.6l3,2.7l-3,2.7l-3,-2.7zM1102.1,1276.6l3,2.7l-3,2.7l-3,-2.7zM1112.7,1276.6l3,2.7l-3,2.7l-3,-2.7zM1123.3,1276.6l3,2.7l-3,2.7l-3,-2.7zM1133.9,1276.6l3,2.7l-3,2.7l-3,-2.7zM1054.4,1282.0l3,2.7l-3,2.7l-3,-2.7zM1065.0,1282.0l3,2.7l-3,2.7l-3,-2.7zM1075.6,1282.0l3,2.7l-3,2.7l-3,-2.7zM1086.2,1282.0l3,2.7l-3,2.7l-3,-2.7zM1096.8,1282.0l3,2.7l-3,2.7l-3,-2.7zM1107.4,1282.0l3,2.7l-3,2.7l-3,-2.7zM1118.0,1282.0l3,2.7l-3,2.7l-3,-2.7zM1128.6,1282.0l3,2.7l-3,2.7l-3,-2.7zM1070.3,1287.3l3,2.7l-3,2.7l-3,-2.7zM1080.9,1287.3l3,2.7l-3,2.7l-3,-2.7zM1091.5,1287.3l3,2.7l-3,2.7l-3,-2.7zM1102.1,1287.3l3,2.7l-3,2.7l-3,-2.7zM1112.7,1287.3l3,2.7l-3,2.7l-3,-2.7zM1075.6,1292.6l3,2.7l-3,2.7l-3,-2.7zM1086.2,1292.6l3,2.7l-3,2.7l-3,-2.7zM1096.8,1292.6l3,2.7l-3,2.7l-3,-2.7zM1107.4,1292.6l3,2.7l-3,2.7l-3,-2.7zM1091.5,1298.0l3,2.7l-3,2.7l-3,-2.7z" fill="none" stroke="#1a1a1a" stroke-width="0.9"/><path d="M714.7,1096.3 L769.2,1066.7 C903.2,1129.6 1043.6,1205.5 1148.1,1271.2 L1092.5,1300.8 C982.8,1244.3 847.4,1180.4 714.7,1096.3 Z" fill="none" stroke="#1a1a1a" stroke-width="1.4"/>
<path d="M772,1070 C903.2,1132 1043.6,1208 1143,1273" fill="none" stroke="#555" stroke-width="0.8"/>
<path d="M718,1098.5 C847.4,1182.5 982.8,1246.5 1092,1298" fill="none" stroke="#555" stroke-width="0.8"/>
</g>
<g id="flange" fill="none" stroke="#1a1a1a" stroke-width="1.05">
<path d="M855.6,738.5 L855.6,747 A73,39.2 0 0 0 1001.7,747 L1001.7,738.5" fill="#fff"/>
<ellipse cx="928.6" cy="738.5" rx="73" ry="39.2" fill="#fff"/>
<ellipse cx="928.4" cy="737.3" rx="56.6" ry="31.5"/>
<ellipse cx="928.3" cy="733.7" rx="51.8" ry="27.2"/>
<ellipse cx="928.7" cy="734.3" rx="47" ry="25.3"/>
<ellipse cx="928.5" cy="738.5" rx="32.5" ry="17.5"/>
</g>
<g id="clamp" transform="translate(870,810) scale(0.092807)" fill="none" stroke="#1a1a1a" stroke-width="11" stroke-linejoin="round">
<path fill="#fff" stroke="none" d="M180,655 C120,600 95,520 120,450 C170,350 330,262 470,243 C560,230 680,232 730,242 L940,132 Q970,118 1000,142 L1165,240 L1325,325 L1374,527 L1470,587 L1478,627 L1393,683 L1422,823 L1523,883 L1525,919 L1441,975 L1469,1111 L1565,1163 L1570,1203 L960,1650 C860,1700 760,1732 615,1732 C470,1732 340,1690 230,1620 C150,1560 105,1500 101,1432 C100,1370 120,1300 172,1256 L165,1000 L200,960 L131,849 L135,680 Z"/>
<path d="M180,655 C120,600 95,520 120,450 C170,350 330,262 470,243 C560,230 680,232 730,242 L940,132 Q970,118 1000,142"/>
<ellipse cx="620" cy="510" rx="345" ry="185"/>
<ellipse cx="315" cy="673" rx="41" ry="26"/>
<path d="M1165,240 L1325,325 L1335,345 L1130,455 L1134,575"/>
<path d="M1335,345 L1374,527 L1470,587 L1478,627 L1393,683 L1082,843 L1078,815 L1470,595"/>
<path d="M1370,583 L1018,779 C1010,800 1000,830 970,855"/>
<path d="M1393,683 L1422,823 L1523,883 L1525,919 L1441,975 L1086,1163 L1082,1127 L1521,895"/>
<path d="M1010,1103 L1430,879 L1422,823"/>
<path d="M1441,975 L1469,1111 L1565,1163 L1570,1203 L960,1650"/>
<path d="M1562,1171 L1012,1560 M1009,1380 L1469,1111"/>
<path d="M356,748 C450,775 530,781 615,781 C760,781 900,740 970,711 C1040,680 1090,655 1134,575"/>
<path d="M180,655 L135,680 L307,770 L356,748 L356,804 L427,826 L427,871 L330,924 M135,680 L131,849 L307,946 L307,770"/>
<path d="M420,826 C480,840 540,845 615,845 C720,845 800,825 862,796 C930,765 980,740 1005,714"/>
<path d="M360,939 C450,970 530,984 615,984 C740,984 840,950 900,916 C950,885 990,860 1005,834"/>
<path d="M330,961 C430,1000 520,1021 615,1021 C760,1021 880,990 937,961 C1000,930 1050,890 1082,843"/>
<path d="M465,1036 C520,1052 570,1059 615,1059 C760,1059 920,1010 1005,955 L1010,1103"/>
<path d="M1082,1191 C1060,1260 950,1342 615,1342 C450,1342 300,1290 176,1200"/>
<path d="M1082,1163 L1082,1191 M1065,1207 C990,1300 820,1380 615,1380 C480,1380 350,1330 240,1245"/>
<path d="M1014,1134 C1010,1170 1000,1200 970,1223"/>
<path d="M360,1380 C450,1405 540,1417 615,1417 C800,1417 940,1370 1009,1312 L1009,1410"/>
<path d="M364,1552 C450,1590 540,1601 615,1601 C760,1601 880,1560 950,1500 C980,1470 1000,1440 1009,1410"/>
<path d="M172,1256 C120,1300 100,1370 101,1432 C105,1500 150,1560 230,1620 C340,1690 470,1732 615,1732 C760,1732 860,1700 960,1650"/>
<path d="M112,1470 C150,1560 250,1612 400,1650 C480,1665 560,1665 615,1665 C800,1665 950,1600 1012,1560"/>

<path d="M270,1029 C380,1040 460,1066 490,1110 C510,1150 500,1200 465,1230 C440,1250 410,1265 390,1269" fill="#fff"/>
<ellipse cx="285" cy="1157" rx="112" ry="140" transform="rotate(-30 285 1157)" fill="#fff"/>
<path d="M200,1075 C155,1130 160,1230 215,1275"/>
<path d="M296,1335 L296,1560 M330,1335 L330,1565 M364,1380 L364,1552 M292,1312 C230,1350 220,1450 292,1500"/>
<path d="M912,262 C905,320 980,355 1040,355 C1110,355 1170,320 1168,275" fill="#fff"/>
<path d="M925,228 L1000,158 L1120,165 L1158,232 L1162,290 L1065,340 L955,322 L920,280 Z" fill="#fff"/>
<path d="M925,228 L952,268 L1062,282 L1158,232 M952,268 L955,322 M1062,282 L1065,340"/>
</g>
<g id="bolt" fill="none" stroke="#1a1a1a" stroke-width="1" stroke-linejoin="round">
<ellipse cx="507.3" cy="974.4" rx="11.07" ry="9.06" transform="rotate(-60 507.3 974.4)" fill="#fff"/>
<ellipse cx="509.25" cy="975" rx="9.68" ry="6.84" transform="rotate(-60 509.25 975)"/>
<ellipse cx="509.5" cy="976" rx="6.6" ry="3.61" transform="rotate(-60 509.5 976)" fill="#3a3a3a"/>
<path d="M516.2,973.2 L565.6,1000 L559.3,1007.7 L510.6,981.9 Z" fill="#fff" stroke="none"/>
<path d="M516.2,973.2 L565.6,1000 M510.6,981.9 L559.3,1007.7"/>
<ellipse cx="563.2" cy="1003.8" rx="5.5" ry="3.35" transform="rotate(-60 563.2 1003.8)" fill="#fff"/>
</g>
<g id="rbolt" fill="none" stroke="#1a1a1a" stroke-width="1" stroke-linejoin="round">
<path d="M1274,1380.6 L1324.5,1408.4 L1320.1,1416.2 L1269.7,1388.4 Q1267.5,1387 1269,1383.5 L1270.5,1381.5 Q1272,1380 1274,1380.6 Z" fill="#fff"/>
<path d="M1318.5,1405.5 L1327,1410 L1323.5,1419 L1315.5,1414.5 Z" fill="#555" stroke="#222" stroke-width="0.8"/>
<path d="M1319.5,1406.5 L1317,1414 M1322,1408 L1319.5,1415.5 M1324.5,1409.3 L1322,1417" stroke="#111" stroke-width="0.7"/>
<ellipse cx="1333.6" cy="1417.1" rx="9.9" ry="8.6" transform="rotate(-60 1333.6 1417.1)" fill="#fff"/>
</g>
<g id="washer" fill="none" stroke="#1a1a1a" stroke-width="1.1">
<ellipse cx="759.3" cy="1234" rx="8.6" ry="10.8" transform="rotate(32 759.3 1234)" fill="#fff"/>
<ellipse cx="760.5" cy="1234.5" rx="4.3" ry="5.8" transform="rotate(32 760.5 1234.5)"/>
</g>
<g id="nut" fill="none" stroke="#1a1a1a" stroke-width="1" stroke-linejoin="round">
<path d="M792.1,1254.2 L797.7,1248.2 L804.1,1246.3 L812.5,1248.7 L813.9,1251.0 L813.9,1260.7 L806.4,1268.1 L799.0,1267.7 L792.5,1264.4 Z" fill="#fff"/>
<path d="M792.1,1254.2 L799.0,1257.9 L799.0,1267.7 M799.0,1257.9 L805.1,1250.5 L813.9,1251.0 M797.7,1248.6 L812,1249.5"/>
<ellipse cx="806.0" cy="1258.9" rx="4.3" ry="6.0" transform="rotate(30 806 1258.9)"/>
<path d="M803.5,1256 L808,1261.5 M805,1255 L809,1259.5" stroke-width="0.7"/>
</g>
<g id="cap" fill="none" stroke="#1a1a1a" stroke-width="1.1">
<ellipse cx="1457.8" cy="1882.8" rx="30" ry="24" transform="rotate(70 1457.8 1882.8)" fill="#fff"/>
<ellipse cx="1455.9" cy="1883.4" rx="27.6" ry="22" transform="rotate(70 1455.9 1883.4)"/>
<path d="M1432.2,1866.9 L1445.2,1854.3 L1462,1886 L1470.8,1910.4 Q1460.6,1913 1448.4,1909.6 Z" fill="#fff" stroke="none"/>
<path d="M1432.2,1866.9 L1445.2,1854.3 M1448.4,1909.6 Q1460.6,1913 1470.8,1910.4"/>
<ellipse cx="1444.4" cy="1888.4" rx="21.9" ry="17.3" transform="rotate(70 1444.4 1888.4)" fill="#fff"/>
<ellipse cx="1444.9" cy="1888.6" rx="20.3" ry="15.8" transform="rotate(70 1444.9 1888.6)"/>
<ellipse cx="1441.9" cy="1889.7" rx="16.6" ry="13" transform="rotate(70 1441.9 1889.7)"/>
<path d="M1439.5,1876.7 C1441,1886 1446,1896 1453.3,1898.6"/>
</g></defs>
<g fill="none" stroke="#1a1a1a" stroke-width="1.1">
<path d="M586.9,1525 L586.9,282.1 L587.0,275.4 L587.3,268.6 L587.9,261.0 L588.6,254.2 L589.6,246.5 L590.8,239.6 L592.2,231.8 L593.8,224.9 L595.5,218.0 L597.6,210.2 L599.7,203.3 L602.3,195.6 L604.7,188.7 L607.7,181.0 L610.5,174.3 L613.9,166.7 L617.0,160.0 L620.3,153.4 L624.2,146.0 L627.9,139.5 L632.1,132.3 L636.1,126.0 L640.7,119.1 L644.9,113.0 L649.3,107.0 L654.3,100.3 L659.0,94.6 L664.3,88.3 L669.2,82.8 L674.8,76.8 L679.9,71.6 L685.7,65.9 L691.0,61.0 L696.4,56.3 L702.5,51.2 L708.1,46.8 L714.4,42.1 L720.1,38.1 L726.6,33.8 L732.4,30.2 L738.3,26.8 L745.0,23.2 L751.0,20.2 L757.8,17.1 L763.8,14.6 L770.7,12.0 L776.8,9.9 L783.7,7.8 L789.9,6.2 L796.1,4.9 L803.0,3.6 L809.2,2.8 L816.1,2.1 L822.2,1.8 L829.1,1.8 L835.2,2.0 L841.2,2.5 L847.9,3.3 L853.8,4.4 L860.3,5.9 L866.1,7.6 L872.4,9.7 L877.9,11.9 L883.9,14.7 L889.1,17.5 L893.5,20.1 L899.1,23.7 L903.8,27.2 L908.9,31.5 L913.2,35.5 L917.9,40.2 L921.8,44.6 L925.5,49.3 L929.4,54.7 L932.6,59.7 L936.0,65.5 L938.8,70.9 L941.7,77.1 L944.0,82.7 L946.4,89.2 L948.2,95.1 L949.9,101.1 L951.5,108.0 L952.7,114.2 L953.8,121.4 L954.5,127.8 L955.2,135.1 L955.5,141.6 L955.6,149.1 L955.6,658 M641.3,1525 L641.3,282.1 L641.4,276.9 L641.6,271.5 L642.1,265.5 L642.6,260.0 L643.4,253.8 L644.3,248.2 L645.5,241.9 L646.8,236.2 L648.2,230.5 L649.9,224.0 L651.6,218.3 L653.7,211.8 L655.7,206.0 L658.2,199.6 L660.5,193.8 L663.4,187.4 L666.0,181.8 L668.8,176.2 L672.0,169.9 L675.1,164.4 L678.7,158.3 L682.0,152.9 L685.8,147.0 L689.4,141.8 L693.0,136.7 L697.2,131.1 L701.1,126.2 L705.5,120.9 L709.6,116.2 L714.2,111.2 L718.4,106.8 L723.2,102.1 L727.5,98.1 L731.9,94.2 L736.9,89.9 L741.3,86.4 L746.4,82.5 L750.9,79.3 L756.0,75.9 L760.5,73.0 L765.1,70.3 L770.2,67.5 L774.7,65.2 L779.8,62.9 L784.2,60.9 L789.2,59.0 L793.6,57.5 L798.5,56.0 L802.7,54.8 L806.9,53.9 L811.6,53.0 L815.6,52.4 L820.1,52.0 L824.0,51.8 L828.2,51.7 L831.9,51.9 L835.5,52.2 L839.4,52.7 L842.8,53.4 L846.4,54.3 L849.6,55.2 L853.1,56.5 L856.0,57.7 L859.3,59.3 L862.1,60.8 L864.4,62.3 L867.4,64.4 L869.9,66.4 L872.7,68.8 L875.1,71.1 L877.6,73.8 L879.8,76.5 L881.9,79.2 L884.2,82.5 L886.1,85.6 L888.2,89.3 L889.9,92.8 L891.7,96.8 L893.2,100.6 L894.8,105.0 L896.0,109.1 L897.1,113.3 L898.2,118.2 L899.1,122.7 L899.9,128.0 L900.4,132.7 L900.9,138.2 L901.1,143.3 L901.2,149.0 L901.2,658 M955.6,658 C955.6,665.2 942.9,671 928.3,671 C913.1,671 901.2,665.2 901.2,658"/>
<path d="M587.6,1525 C587.6,1600 640,1644 704,1644 C720,1644 730,1641 739,1639"/><path d="M640.5,1525 C640.5,1555 655,1585 684,1591"/>
<g transform="translate(609.3,325.3)"><path d="M586.9,1530 L586.9,282.1 L587.0,275.4 L587.3,268.6 L587.9,261.0 L588.6,254.2 L589.6,246.5 L590.8,239.6 L592.2,231.8 L593.8,224.9 L595.5,218.0 L597.6,210.2 L599.7,203.3 L602.3,195.6 L604.7,188.7 L607.7,181.0 L610.5,174.3 L613.9,166.7 L617.0,160.0 L620.3,153.4 L624.2,146.0 L627.9,139.5 L632.1,132.3 L636.1,126.0 L640.7,119.1 L644.9,113.0 L649.3,107.0 L654.3,100.3 L659.0,94.6 L664.3,88.3 L669.2,82.8 L674.8,76.8 L679.9,71.6 L685.7,65.9 L691.0,61.0 L696.4,56.3 L702.5,51.2 L708.1,46.8 L714.4,42.1 L720.1,38.1 L726.6,33.8 L732.4,30.2 L738.3,26.8 L745.0,23.2 L751.0,20.2 L757.8,17.1 L763.8,14.6 L770.7,12.0 L776.8,9.9 L783.7,7.8 L789.9,6.2 L796.1,4.9 L803.0,3.6 L809.2,2.8 L816.1,2.1 L822.2,1.8 L829.1,1.8 L835.2,2.0 L841.2,2.5 L847.9,3.3 L853.8,4.4 L860.3,5.9 L866.1,7.6 L872.4,9.7 L877.9,11.9 L883.9,14.7 L889.1,17.5 L893.5,20.1 L899.1,23.7 L903.8,27.2 L908.9,31.5 L913.2,35.5 L917.9,40.2 L921.8,44.6 L925.5,49.3 L929.4,54.7 L932.6,59.7 L936.0,65.5 L938.8,70.9 L941.7,77.1 L944.0,82.7 L946.4,89.2 L948.2,95.1 L949.9,101.1 L951.5,108.0 L952.7,114.2 L953.8,121.4 L954.5,127.8 L955.2,135.1 L955.5,141.6 L955.6,149.1 L955.6,658 M641.3,1534 L641.3,282.1 L641.4,276.9 L641.6,271.5 L642.1,265.5 L642.6,260.0 L643.4,253.8 L644.3,248.2 L645.5,241.9 L646.8,236.2 L648.2,230.5 L649.9,224.0 L651.6,218.3 L653.7,211.8 L655.7,206.0 L658.2,199.6 L660.5,193.8 L663.4,187.4 L666.0,181.8 L668.8,176.2 L672.0,169.9 L675.1,164.4 L678.7,158.3 L682.0,152.9 L685.8,147.0 L689.4,141.8 L693.0,136.7 L697.2,131.1 L701.1,126.2 L705.5,120.9 L709.6,116.2 L714.2,111.2 L718.4,106.8 L723.2,102.1 L727.5,98.1 L731.9,94.2 L736.9,89.9 L741.3,86.4 L746.4,82.5 L750.9,79.3 L756.0,75.9 L760.5,73.0 L765.1,70.3 L770.2,67.5 L774.7,65.2 L779.8,62.9 L784.2,60.9 L789.2,59.0 L793.6,57.5 L798.5,56.0 L802.7,54.8 L806.9,53.9 L811.6,53.0 L815.6,52.4 L820.1,52.0 L824.0,51.8 L828.2,51.7 L831.9,51.9 L835.5,52.2 L839.4,52.7 L842.8,53.4 L846.4,54.3 L849.6,55.2 L853.1,56.5 L856.0,57.7 L859.3,59.3 L862.1,60.8 L864.4,62.3 L867.4,64.4 L869.9,66.4 L872.7,68.8 L875.1,71.1 L877.6,73.8 L879.8,76.5 L881.9,79.2 L884.2,82.5 L886.1,85.6 L888.2,89.3 L889.9,92.8 L891.7,96.8 L893.2,100.6 L894.8,105.0 L896.0,109.1 L897.1,113.3 L898.2,118.2 L899.1,122.7 L899.9,128.0 L900.4,132.7 L900.9,138.2 L901.1,143.3 L901.2,149.0 L901.2,658 M955.6,658 C955.6,665.2 942.9,671 928.3,671 C913.1,671 901.2,665.2 901.2,658"/></g>
<path d="M1196.5,1854 C1196.5,1925 1245,1969.3 1308,1969.3 C1335,1969.3 1355,1962 1374.9,1947 C1378,1935 1372,1920 1354.5,1910.9 Q1350,1910 1347,1911.8 C1335,1915 1322,1918.3 1310,1918.3 C1280,1918.3 1251,1890 1251,1858"/>
</g>
<use href="#flange"/>
<use href="#clamp"/>
<use href="#flange" transform="translate(609,312.5)"/>
<use href="#clamp" transform="translate(609,312.5)"/>
<use href="#bolt" transform="translate(0,0)"/>
<use href="#rbolt" transform="translate(0,0)"/>
<use href="#washer" transform="translate(0,0.0)"/>
<use href="#nut" transform="translate(0,0.0)"/>
<use href="#washer" transform="translate(316.70000000000005,152.70000000000005)"/>
<use href="#nut" transform="translate(238.4,110.4)"/>
<ellipse cx="633.1" cy="1041.9" rx="3.3" ry="4.6" transform="rotate(25 633.1 1041.9)" fill="#fff" stroke="#1a1a1a" stroke-width="1.1"/>
<ellipse cx="1242.6" cy="1367.4" rx="3.3" ry="4.6" transform="rotate(25 1242.6 1367.4)" fill="#fff" stroke="#1a1a1a" stroke-width="1.1"/>
<use href="#bolt" transform="translate(0,240.8)"/>
<use href="#rbolt" transform="translate(0,239.5)"/>
<use href="#washer" transform="translate(0,239.8)"/>
<use href="#nut" transform="translate(0,239.8)"/>
<use href="#washer" transform="translate(316.70000000000005,392.50000000000006)"/>
<use href="#nut" transform="translate(238.4,350.20000000000005)"/>
<ellipse cx="633.1" cy="1281.7" rx="3.3" ry="4.6" transform="rotate(25 633.1 1281.7)" fill="#fff" stroke="#1a1a1a" stroke-width="1.1"/>
<ellipse cx="1242.6" cy="1607.2" rx="3.3" ry="4.6" transform="rotate(25 1242.6 1607.2)" fill="#fff" stroke="#1a1a1a" stroke-width="1.1"/>
<use href="#bolt" transform="translate(0,475.5)"/>
<use href="#rbolt" transform="translate(0,479)"/>
<use href="#washer" transform="translate(0,479.6)"/>
<use href="#nut" transform="translate(0,479.6)"/>
<use href="#washer" transform="translate(316.70000000000005,632.3000000000001)"/>
<use href="#nut" transform="translate(238.4,590.0)"/>
<ellipse cx="633.1" cy="1521.5" rx="3.3" ry="4.6" transform="rotate(25 633.1 1521.5)" fill="#fff" stroke="#1a1a1a" stroke-width="1.1"/>
<ellipse cx="1242.6" cy="1847.0" rx="3.3" ry="4.6" transform="rotate(25 1242.6 1847.0)" fill="#fff" stroke="#1a1a1a" stroke-width="1.1"/>
<use href="#cap" transform="translate(-609,-325.5)"/>
<use href="#tread" transform="translate(0,0.0)"/>
<use href="#tread" transform="translate(0,239.8)"/>
<use href="#tread" transform="translate(0,479.6)"/>
<use href="#cap"/>
<path d="M927.6,671 L927.6,874 M1537.2,996 L1537.2,1186 M568.4,1007 L586.5,1016.5 M637.3,1044.7 L690.2,1072.5 M712.6,1142.0 L712.6,1208.5 L830.7,1272.6 M1146.9,1315.8 L1194.8,1341.8 M1247.5,1370.5 L1269.9,1381.6 M1117.6,1341.8 L1117.6,1408.0 L1026.2,1359.3 M568.4,1247.8 L586.5,1257.3 M637.3,1284.5 L690.2,1312.3 M712.6,1381.8 L712.6,1448.3 L830.7,1512.3999999999999 M1146.9,1555.6 L1194.8,1581.6 M1247.5,1610.3 L1269.9,1621.3999999999999 M1117.6,1581.6 L1117.6,1647.8 L1026.2,1599.1 M568.4,1482.5 L586.5,1492.0 M637.3,1524.3000000000002 L690.2,1552.1 M712.6,1621.6 L712.6,1688.1 L830.7,1752.1999999999998 M1146.9,1795.4 L1194.8,1821.4 M1247.5,1850.1 L1269.9,1861.1999999999998 M1117.6,1821.4 L1117.6,1887.6 L1026.2,1838.9 M1373,1926.6 L1484.4,1866.3" fill="none" stroke="#9a9a9a" stroke-width="1" stroke-dasharray="4.2 3"/>
<path d="M115,485.5 L603,485.5 M116,1113 L537.8,991.3 M116,1113 L699,1113 M116,1114 L752,1234 M116,1114.5 L794.2,1258 M116,1715.3 L536.7,1468.7 M116,1715.3 L752,1715.3 M116,1720.6 L795.8,1740.1 M1603,1050.8 L1885,1050.8 M1600,1243.5 L1885,1243.5 M1472.3,1893.2 L1885,1893.2" fill="none" stroke="#1f8dc6" stroke-width="2"/>
<ellipse cx="58" cy="485.5" rx="57" ry="53" fill="#fff" stroke="#000" stroke-width="2.2"/><text transform="translate(58,510.5) scale(1.04,1)" x="0" y="0" text-anchor="middle" font-family="Liberation Sans, sans-serif" font-size="76" fill="#000" stroke="#000" stroke-width="0.9">8</text>
<ellipse cx="58.5" cy="1113" rx="57" ry="53" fill="#fff" stroke="#000" stroke-width="2.2"/><text transform="translate(58.5,1138) scale(1.02,1)" x="0" y="0" text-anchor="middle" font-family="Liberation Sans, sans-serif" font-size="76" fill="#000" stroke="#000" stroke-width="0.9">3</text>
<ellipse cx="58" cy="1715.3" rx="57" ry="53" fill="#fff" stroke="#000" stroke-width="2.2"/><text transform="translate(56,1738.8) scale(1.05,1)" x="0" y="0" text-anchor="middle" font-family="Liberation Sans, sans-serif" font-size="76" fill="#000" stroke="#000" stroke-width="0.9">4</text>
<ellipse cx="1942.5" cy="1051" rx="57" ry="53" fill="#fff" stroke="#000" stroke-width="2.2"/><text transform="translate(1942.5,1076) scale(1.09,1)" x="0" y="0" text-anchor="middle" font-family="Liberation Sans, sans-serif" font-size="76" fill="#000" stroke="#000" stroke-width="0.9">2</text>
<ellipse cx="1942.5" cy="1243.6" rx="57" ry="53" fill="#fff" stroke="#000" stroke-width="2.2"/>
<path d="M1941.6,1216 L1947.4,1216 L1947.4,1269.9 L1938.8,1269.9 L1938.8,1228.8 Q1932.5,1233.5 1924.9,1236.9 L1924.9,1229.3 Q1932,1225.8 1936.8,1221.6 Q1939.8,1218.8 1941.6,1216 Z" fill="#000"/>
<ellipse cx="1942.5" cy="1893.5" rx="57" ry="53" fill="#fff" stroke="#000" stroke-width="2.2"/><text transform="translate(1945.5,1920.5) scale(1.09,1)" x="0" y="0" text-anchor="middle" font-family="Liberation Sans, sans-serif" font-size="76" fill="#000" stroke="#000" stroke-width="0.9">7</text><text x="1966.5" y="1888.5" font-family="Liberation Sans, sans-serif" font-size="46" font-weight="bold" fill="#2a2a2a">*</text>
<path d="M1.7,2499.5 L1.7,1984.6 L1404.8,1984.6 L1634.2,2115 L1634.2,2499.5 Z" fill="none" stroke="#1f8dc6" stroke-width="2.2"/>
<text x="6" y="2026" font-family="Liberation Sans, sans-serif" font-size="54" font-weight="bold" fill="#222">*</text>
<path d="M47,2010.6 L47,2460" stroke="#8a8a8a" stroke-width="1.5"/>
<path d="M117.5,2023.7 L117.5,2483.3" stroke="#111" stroke-width="1.5"/>
<path d="M106,2095.3 L253,2095.3 M106,2403.6 L253,2403.6 M200.1,2095.3 L200.1,2403.6 M192,2108.5 L200.1,2095.8 L208.2,2108.5 M192,2390.5 L200.1,2403.1 L208.2,2390.5" fill="none" stroke="#9a9a9a" stroke-width="1.1"/>
<ellipse cx="106.5" cy="2096" rx="3.9" ry="6.4" transform="rotate(40 106.5 2096)" fill="none" stroke="#1a1a1a" stroke-width="1"/>
<ellipse cx="107" cy="2403.6" rx="3.9" ry="6.4" transform="rotate(40 107 2403.6)" fill="none" stroke="#1a1a1a" stroke-width="1"/>
<text x="171" y="2261" font-family="Liberation Sans, sans-serif" font-size="33" font-style="italic" fill="#2a2a2a">D</text>
<text x="234.5" y="2157" font-family="Liberation Sans, sans-serif" font-size="25.3" font-weight="bold" fill="#262626" lengthAdjust="spacingAndGlyphs" textLength="1382">Si D=25cm: Pasamanos modelo antiguo (no se fabrica). Hay que comprar 2 uds. de pasamano del modelo actual (D=26cm).</text>
<text x="234.5" y="2189" font-family="Liberation Sans, sans-serif" font-size="25.3" font-weight="bold" fill="#262626" lengthAdjust="spacingAndGlyphs" textLength="981.5">If D=25cm: Old handrail (obsolete). You have to buy 2 uts. of current handrail (D=26cm).</text>
<text x="234.5" y="2325" font-family="Liberation Sans, sans-serif" font-size="25.3" font-weight="bold" fill="#262626" lengthAdjust="spacingAndGlyphs" textLength="438.5">Si D=26cm: Pasamanos modelo actual.</text>
<text x="234.5" y="2357" font-family="Liberation Sans, sans-serif" font-size="25.3" font-weight="bold" fill="#262626" lengthAdjust="spacingAndGlyphs" textLength="317.5">If D=26cm: Current handrail.</text></svg>
</body></html>
